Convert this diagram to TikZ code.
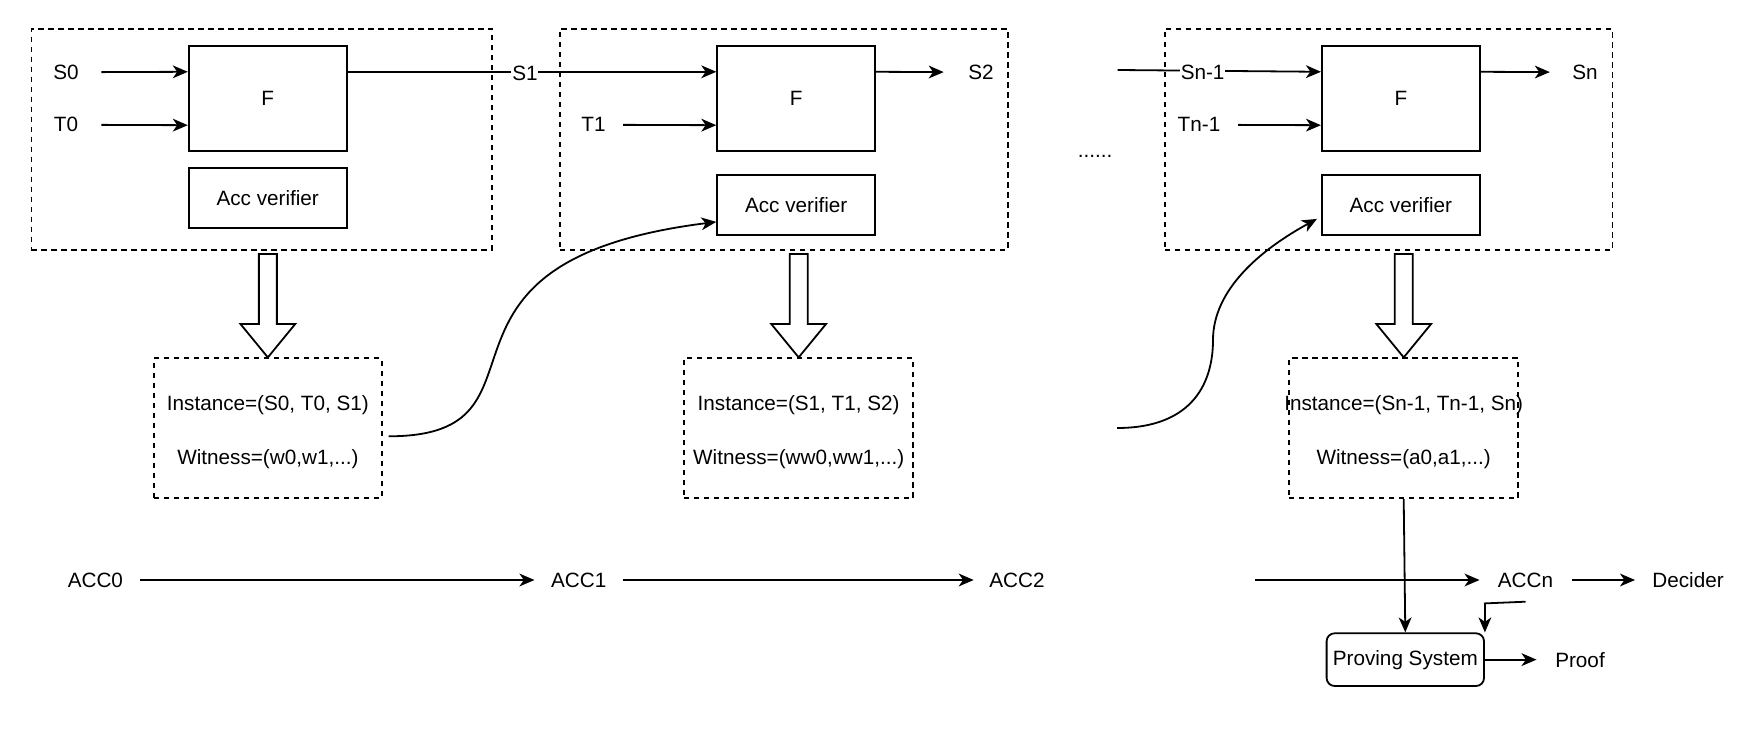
\documentclass[tikz,border=0pt]{standalone}
\usepackage{fontspec}
\setmainfont{Liberation Sans}
\usetikzlibrary{arrows.meta,calc}
\newcommand\diagfont{\fontsize{10.35pt}{12.4pt}\selectfont}
\begin{document}
\begin{tikzpicture}[
  x=0.5pt, y=-0.5pt,
  every node/.style={font=\diagfont},
  stroke/.style={line width=0.9pt},
  dashedline/.style={dash pattern=on 2.6pt off 2.4pt},
  frame/.style={draw, stroke, dashedline, minimum width=223.8pt, minimum height=110.65pt, inner sep=0},
  fbox/.style={draw, stroke, minimum width=79pt, minimum height=52.5pt, inner sep=0},
  accbox/.style={draw, stroke, minimum width=79pt, minimum height=30pt, inner sep=0},
  instbox/.style={draw, stroke, dashedline, minimum width=114.6pt, minimum height=70pt, inner sep=0, align=center},
  psbox/.style={draw, stroke, rounded corners=4pt, minimum width=78.7pt, minimum height=26.35pt, inner sep=0},
  lbl/.style={inner sep=0, outer sep=0},
  onedge/.style={fill=white, inner sep=0.4pt, yshift=-1pt},
  arr/.style={stroke, -{Stealth[length=7.5pt, width=6.4pt, inset=2.2pt]}},
  blockdown/.pic={
    \draw[stroke] (0,0) -- (-27.3,-33.3) -- (-9,-33.3) -- (-9,-103.3)
      -- (9,-103.3) -- (9,-33.3) -- (27.3,-33.3) -- cycle;
  }
]
% canvas
\fill[white] (0,0) rectangle (1756,732);
\useasboundingbox (0,0) rectangle (1756,732);

% step frames
\node[frame, minimum width=230.2pt] (box1) at (261.6,139.35) {};
\node[frame] (box2) at (783.85,139.35) {};
\node[frame] (box3) at (1388.75,139.35) {};

% step functions and verifiers
\node[fbox] (F1) at (267.7,98.5) {F};
\node[fbox] (F2) at (796.2,98.5) {F};
\node[fbox] (F3) at (1400.85,98.5) {F};
\node[accbox, minimum height=29.85pt] (acc1) at (267.7,198.15) {Acc verifier};
\node[accbox] (acc2) at (796.2,205) {Acc verifier};
\node[accbox] (acc3) at (1400.85,205) {Acc verifier};

% input / output ports on the F boxes
\foreach \f in {F1,F2,F3}{
  \coordinate (\f in1) at ($(\f.north west)!0.25!(\f.south west)$);
  \coordinate (\f in2) at ($(\f.north west)!0.75!(\f.south west)$);
  \coordinate (\f out) at ($(\f.north east)!0.25!(\f.south east)$);
}

% state and input labels
\node[lbl, minimum width=35.4pt] (s0) at (66,72.25) {S0};
\node[lbl, minimum width=35.4pt] (t0) at (66,124.75) {T0};
\node[lbl, minimum width=29.5pt] (t1) at (593.5,124.75) {T1};
\node[lbl, minimum width=39pt] (tn1) at (1199,124.75) {Tn-1};
\node[lbl, minimum width=37.3pt] (s2) at (981,72.25) {S2};
\node[lbl, minimum width=35.2pt] (sn) at (1585,72.25) {Sn};
\node[lbl, anchor=base] (dots) at (1095,158) {......};
\coordinate (snin) at (1117.6,70);

\draw[arr] (s0) -- (F1in1);
\draw[arr] (t0) -- (F1in2);
\draw[arr] (F1out) -- node[pos=0.481, onedge] (s1) {S1} (F2in1);
\draw[arr] (t1) -- (F2in2);
\draw[arr] (F2out) -- (s2);
\draw[arr] (snin) -- node[pos=0.418, onedge] (sn1) {Sn-1} (F3in1);
\draw[arr] (tn1) -- (F3in2);
\draw[arr] (F3out) -- (sn);

% instance / witness boxes
\node[instbox, minimum width=113.85pt] (inst1) at (267.85,428.3)
  {\makebox[0pt]{\rule{0pt}{11.3pt}Instance=(S0, T0, S1)}\\[14.3pt]\makebox[0pt]{Witness=(w0,w1,...)}};
\node[instbox] (inst2) at (798.65,428.3)
  {\makebox[0pt]{\rule{0pt}{11.3pt}Instance=(S1, T1, S2)}\\[14.3pt]\makebox[0pt]{Witness=(ww0,ww1,...)}};
\node[instbox] (inst3) at (1403.7,428.3)
  {\makebox[0pt]{\rule{0pt}{11.3pt}Instance=(Sn-1, Tn-1, Sn)}\\[14.3pt]\makebox[0pt]{Witness=(a0,a1,...)}};

% hollow arrows from each step to its instance
\pic at (inst1.north) {blockdown};
\pic at (inst2.north) {blockdown};
\pic at (inst3.north) {blockdown};

% accumulator feedback into the next verifier
\draw[arr] ($(inst1.east)+(6,8)$) .. controls +(180,0) and +(-320,40) .. ($(acc2.south west)+(0,-14)$);
\coordinate (fbin) at (1117,428);
\draw[arr] (fbin) .. controls (1195,428) and (1213,380) .. (1213,340)
  .. controls (1213,290) and (1260,250) .. ($(acc3.south west)+(-4,-17)$);

% accumulator chain
\node[lbl, minimum width=44.9pt] (a0) at (95.4,580) {ACC0};
\node[lbl, minimum width=44.25pt] (a1) at (578.7,580) {ACC1};
\node[lbl, minimum width=43.3pt] (a2) at (1017,580) {ACC2};
\node[lbl, minimum width=46pt, minimum height=21.7pt] (an) at (1525.5,580) {ACCn};
\node[lbl, minimum width=53pt] (dec) at (1688,580) {Decider};
\coordinate (anin) at (1255,580);

\draw[arr] (a0) -- (a1);
\draw[arr] (a1) -- (a2);
\draw[arr] (anin) -- (an);
\draw[arr] (an) -- (dec);

% final proof
\node[psbox] (ps) at (1405.3,659.65) {Proving System};
\node[lbl, minimum width=43.5pt] (proof) at (1580,659.65) {Proof};
\draw[arr] (inst3.south) -- (ps.north);
\draw[arr] (an.south) -- ($(ps.north east)+(0,-29)$) -- (ps.north east);
\draw[arr] (ps) -- (proof);
\end{tikzpicture}
\end{document}
